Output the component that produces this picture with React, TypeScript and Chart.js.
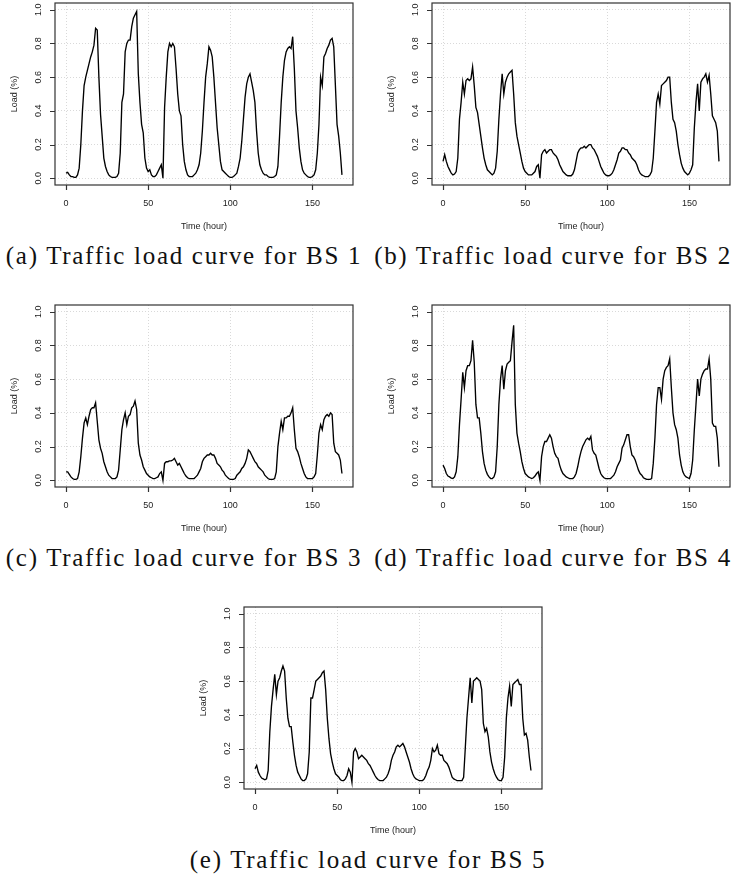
import React, { useEffect, useRef } from "react";
import { Chart, registerables } from "chart.js";

Chart.register(...registerables);

// ---- data (hourly load, hours 0..168) ----
const HOURS: number[] = Array.from({ length: 169 }, (_, i) => i);

const BS1 = [
  0.03, 0.035, 0.02, 0.01, 0.01, 0.005, 0.005, 0.02, 0.06, 0.2,
  0.4, 0.55, 0.6, 0.64, 0.68, 0.72, 0.75, 0.79, 0.89, 0.88,
  0.6, 0.38, 0.25, 0.12, 0.07, 0.04, 0.02, 0.01, 0.005, 0.005,
  0.005, 0.01, 0.03, 0.15, 0.45, 0.5, 0.75, 0.8, 0.82, 0.82,
  0.9, 0.95, 0.97, 0.99, 0.62, 0.45, 0.32, 0.27, 0.12, 0.06,
  0.04, 0.05, 0.02, 0.01, 0.01, 0.02, 0.04, 0.06, 0.08, 0.0,
  0.42, 0.6, 0.75, 0.8, 0.78, 0.8, 0.78, 0.65, 0.5, 0.4,
  0.37, 0.2, 0.1, 0.05, 0.02, 0.01, 0.01, 0.01, 0.02, 0.03,
  0.05, 0.08, 0.15, 0.28, 0.45, 0.6, 0.68, 0.78, 0.76, 0.72,
  0.6, 0.45, 0.3, 0.2, 0.1, 0.05, 0.04, 0.03, 0.02, 0.01,
  0.005, 0.005, 0.01, 0.02, 0.03, 0.07, 0.12, 0.22, 0.35, 0.48,
  0.56, 0.6, 0.62, 0.57, 0.52, 0.45, 0.28, 0.15, 0.08, 0.05,
  0.03, 0.02, 0.02, 0.01, 0.005, 0.005, 0.005, 0.01, 0.02, 0.07,
  0.25, 0.45, 0.6, 0.7, 0.75, 0.77, 0.78, 0.77, 0.84, 0.65,
  0.4, 0.3, 0.18, 0.1, 0.05, 0.03, 0.02, 0.01, 0.005, 0.005,
  0.01, 0.02, 0.05, 0.15, 0.32, 0.6, 0.55, 0.72, 0.74, 0.77,
  0.79, 0.82, 0.83, 0.78, 0.55, 0.32, 0.25, 0.15, 0.02,
];

const BS2 = [
  0.1, 0.14, 0.1, 0.07, 0.05, 0.03, 0.02, 0.025, 0.04, 0.12,
  0.35, 0.45, 0.57, 0.5, 0.58, 0.59, 0.58, 0.59, 0.66, 0.55,
  0.42, 0.39, 0.32, 0.25, 0.18, 0.12, 0.08, 0.05, 0.04, 0.03,
  0.02, 0.03, 0.06, 0.16, 0.35, 0.5, 0.62, 0.5, 0.57, 0.6,
  0.62, 0.63, 0.64, 0.5, 0.33, 0.25, 0.2, 0.15, 0.1, 0.06,
  0.04, 0.03, 0.02, 0.02, 0.02, 0.03, 0.04, 0.07, 0.08, 0.0,
  0.14, 0.16, 0.17, 0.15, 0.16, 0.17, 0.17, 0.15, 0.14, 0.13,
  0.11, 0.08, 0.06, 0.04, 0.03, 0.02, 0.015, 0.015, 0.015, 0.025,
  0.05, 0.1, 0.15, 0.17, 0.18, 0.18, 0.19, 0.18, 0.19, 0.2,
  0.2, 0.18, 0.17, 0.15, 0.13, 0.1, 0.07, 0.05, 0.03, 0.02,
  0.015, 0.015, 0.02, 0.03, 0.05, 0.08, 0.11, 0.15, 0.16, 0.18,
  0.18, 0.17, 0.17, 0.15, 0.14, 0.12, 0.11, 0.1, 0.08, 0.05,
  0.03, 0.02, 0.015, 0.01, 0.01, 0.01, 0.02, 0.04, 0.12, 0.28,
  0.45, 0.5, 0.44, 0.55, 0.56, 0.57, 0.58, 0.6, 0.6, 0.45,
  0.35, 0.33, 0.28, 0.2, 0.14, 0.09, 0.06, 0.04, 0.03, 0.02,
  0.03, 0.05, 0.08, 0.3, 0.45, 0.56, 0.4, 0.57, 0.59, 0.6,
  0.62, 0.57, 0.61, 0.5, 0.37, 0.35, 0.33, 0.28, 0.1,
];

const BS3 = [
  0.05, 0.05, 0.035, 0.02, 0.01, 0.005, 0.005, 0.01, 0.05, 0.14,
  0.25, 0.34, 0.37, 0.33, 0.38, 0.42, 0.43, 0.43, 0.46, 0.35,
  0.24, 0.19, 0.16, 0.11, 0.08, 0.05, 0.03, 0.02, 0.01, 0.01,
  0.01, 0.02, 0.06, 0.18, 0.3, 0.36, 0.4, 0.33, 0.38, 0.39,
  0.43, 0.44, 0.47, 0.42, 0.22, 0.15, 0.12, 0.08, 0.06, 0.04,
  0.03, 0.02, 0.015, 0.01, 0.01, 0.015, 0.02, 0.04, 0.05, 0.0,
  0.1, 0.11, 0.11, 0.115, 0.115, 0.12, 0.13, 0.11, 0.09, 0.1,
  0.08, 0.06, 0.04, 0.025, 0.015, 0.01, 0.01, 0.01, 0.01, 0.02,
  0.03, 0.05, 0.07, 0.11, 0.13, 0.14, 0.15, 0.15, 0.16, 0.15,
  0.15, 0.13, 0.1, 0.09, 0.08, 0.06, 0.05, 0.03, 0.02, 0.01,
  0.005, 0.005, 0.005, 0.01, 0.03, 0.04, 0.05, 0.07, 0.08, 0.1,
  0.13, 0.18, 0.17, 0.15, 0.13, 0.11, 0.1, 0.08, 0.07, 0.06,
  0.05, 0.03, 0.02, 0.01, 0.005, 0.005, 0.005, 0.01, 0.05, 0.2,
  0.28, 0.35, 0.3, 0.37, 0.37, 0.38, 0.38, 0.4, 0.43, 0.3,
  0.19, 0.17, 0.14, 0.1, 0.07, 0.04, 0.02, 0.01, 0.01, 0.01,
  0.01, 0.02, 0.04, 0.15, 0.28, 0.33, 0.3, 0.36, 0.38, 0.39,
  0.38, 0.4, 0.39, 0.22, 0.17, 0.16, 0.15, 0.12, 0.04,
];

const BS4 = [
  0.09, 0.07, 0.04, 0.025, 0.02, 0.012, 0.01, 0.02, 0.05, 0.14,
  0.33, 0.48, 0.64, 0.55, 0.65, 0.68, 0.68, 0.71, 0.83, 0.7,
  0.45, 0.37, 0.37, 0.28, 0.17, 0.1, 0.06, 0.035, 0.02, 0.01,
  0.01, 0.02, 0.05, 0.2, 0.45, 0.6, 0.68, 0.54, 0.65, 0.69,
  0.7, 0.71, 0.82, 0.92, 0.45, 0.28, 0.22, 0.17, 0.11, 0.07,
  0.04, 0.03, 0.02, 0.015, 0.01, 0.015, 0.025, 0.04, 0.05, 0.0,
  0.14, 0.2, 0.23, 0.23, 0.25, 0.27, 0.25, 0.2, 0.16, 0.14,
  0.13, 0.09, 0.06, 0.04, 0.03, 0.02, 0.015, 0.01, 0.01, 0.01,
  0.02, 0.04, 0.08, 0.13, 0.17, 0.2, 0.22, 0.24, 0.25, 0.24,
  0.26, 0.18, 0.16, 0.15, 0.11, 0.07, 0.04, 0.025, 0.015, 0.01,
  0.01, 0.01, 0.01, 0.02, 0.03, 0.05, 0.08, 0.1, 0.12, 0.19,
  0.21, 0.24, 0.27, 0.27, 0.2, 0.15, 0.14, 0.12, 0.09, 0.06,
  0.04, 0.03, 0.015, 0.01, 0.005, 0.005, 0.005, 0.01, 0.1, 0.25,
  0.45, 0.55, 0.55, 0.48, 0.6, 0.65, 0.67, 0.68, 0.72, 0.55,
  0.4, 0.33, 0.3, 0.25, 0.15, 0.09, 0.05, 0.03, 0.02, 0.015,
  0.01, 0.04, 0.12, 0.3, 0.45, 0.6, 0.5, 0.6, 0.63, 0.65,
  0.66, 0.66, 0.72, 0.6, 0.34, 0.32, 0.32, 0.25, 0.08,
];

const BS5 = [
  0.08, 0.1, 0.06, 0.04, 0.025, 0.02, 0.015, 0.02, 0.07, 0.3,
  0.45, 0.55, 0.64, 0.52, 0.6, 0.62, 0.66, 0.69, 0.66, 0.5,
  0.38, 0.33, 0.33, 0.24, 0.16, 0.1, 0.06, 0.04, 0.02, 0.01,
  0.01, 0.02, 0.05, 0.18, 0.5, 0.5, 0.55, 0.6, 0.61, 0.62,
  0.63, 0.65, 0.66, 0.55, 0.38, 0.26, 0.17, 0.12, 0.08, 0.05,
  0.04, 0.03, 0.015, 0.01, 0.01, 0.02, 0.04, 0.08, 0.06, 0.0,
  0.18, 0.2, 0.18, 0.14, 0.15, 0.16, 0.15, 0.14, 0.13, 0.11,
  0.1, 0.08, 0.06, 0.04, 0.025, 0.015, 0.01, 0.01, 0.01, 0.02,
  0.03, 0.05, 0.08, 0.13, 0.16, 0.18, 0.21, 0.22, 0.21, 0.22,
  0.23, 0.21, 0.18, 0.15, 0.12, 0.08, 0.05, 0.03, 0.02, 0.015,
  0.01, 0.01, 0.01, 0.02, 0.04, 0.07, 0.09, 0.13, 0.2, 0.18,
  0.19, 0.22, 0.17, 0.16, 0.16, 0.13, 0.12, 0.11, 0.09, 0.06,
  0.03, 0.02, 0.015, 0.01, 0.01, 0.01, 0.01, 0.03, 0.2, 0.38,
  0.5, 0.62, 0.47, 0.6, 0.61, 0.62, 0.61, 0.6, 0.55, 0.35,
  0.3, 0.32, 0.27, 0.18, 0.12, 0.08, 0.05, 0.03, 0.015, 0.01,
  0.01, 0.03, 0.15, 0.38, 0.5, 0.57, 0.45, 0.58, 0.59, 0.6,
  0.61, 0.58, 0.58, 0.38, 0.28, 0.29, 0.25, 0.15, 0.07,
];

const X_TICKS = [0, 50, 100, 150];
const X_LABELS = ["0", "50", "100", "150"];
const Y_TICKS = [0, 0.2, 0.4, 0.6, 0.8, 1.0];
const Y_LABELS = ["0.0", "0.2", "0.4", "0.6", "0.8", "1.0"];
const X_TITLE = "Time (hour)";
const Y_TITLE = "Load (%)";
const CAPTIONS = [
  "(a) Traffic load curve for BS 1",
  "(b) Traffic load curve for BS 2",
  "(c) Traffic load curve for BS 3",
  "(d) Traffic load curve for BS 4",
  "(e) Traffic load curve for BS 5",
];

// ---- layout ----
const BOX_W = 298;
const BOX_H = 182;
const PAD_L = 56;
const PAD_T = 4;
const PAD_R = 4;
const PAD_B = 50;

const PANELS = [
  { series: BS1, caption: CAPTIONS[0], left: 55, top: 3, capX: 184 },
  { series: BS2, caption: CAPTIONS[1], left: 432, top: 3, capX: 553 },
  { series: BS3, caption: CAPTIONS[2], left: 55, top: 305, capX: 184 },
  { series: BS4, caption: CAPTIONS[3], left: 432, top: 305, capX: 553 },
  { series: BS5, caption: CAPTIONS[4], left: 244, top: 607, capX: 368 },
];

const rFramePlugin = {
  id: "rFrame",
  afterDraw(chart: any) {
    const { ctx, chartArea: a, scales } = chart;
    const xs = scales.x;
    const ys = scales.y;
    ctx.save();
    ctx.strokeStyle = "#333";
    ctx.lineWidth = 1.2;
    ctx.strokeRect(a.left, a.top, a.right - a.left, a.bottom - a.top);
    ctx.beginPath();
    X_TICKS.forEach((v) => {
      const px = Math.round(xs.getPixelForValue(v)) + 0.5;
      ctx.moveTo(px, a.bottom);
      ctx.lineTo(px, a.bottom + 5);
    });
    Y_TICKS.forEach((v) => {
      const py = Math.round(ys.getPixelForValue(v)) + 0.5;
      ctx.moveTo(a.left, py);
      ctx.lineTo(a.left - 5, py);
    });
    ctx.stroke();

    ctx.fillStyle = "#222";
    ctx.font = '9px "Liberation Sans", Arial, sans-serif';
    ctx.textAlign = "center";
    ctx.textBaseline = "middle";
    X_TICKS.forEach((v, i) => {
      ctx.fillText(X_LABELS[i], xs.getPixelForValue(v), a.bottom + 19);
    });
    ctx.fillText(X_TITLE, (a.left + a.right) / 2, a.bottom + 41.5);
    Y_TICKS.forEach((v, i) => {
      ctx.save();
      ctx.translate(a.left - 16, ys.getPixelForValue(v));
      ctx.rotate(-Math.PI / 2);
      ctx.fillText(Y_LABELS[i], 0, 0);
      ctx.restore();
    });
    ctx.save();
    ctx.translate(a.left - 40, (a.top + a.bottom) / 2);
    ctx.rotate(-Math.PI / 2);
    ctx.fillText(Y_TITLE, 0, 0);
    ctx.restore();
    ctx.restore();
  },
};

function Panel({ series }: { series: number[] }) {
  const ref = useRef<HTMLCanvasElement | null>(null);
  useEffect(() => {
    if (!ref.current) return;
    const gridOpts = { color: "#d9d9d9", lineWidth: 1, drawTicks: false };
    const chart = new Chart(ref.current, {
      type: "line",
      data: {
        datasets: [
          {
            data: series.map((v, i) => ({ x: HOURS[i], y: v })),
            borderColor: "#000",
            borderWidth: 1.35,
            pointRadius: 0,
            tension: 0,
            fill: false,
          },
        ],
      },
      options: {
        animation: false,
        responsive: false,
        events: [],
        layout: { padding: { left: 0, top: PAD_T, right: PAD_R, bottom: 0 } },
        plugins: { legend: { display: false }, tooltip: { enabled: false }, title: { display: false } },
        scales: {
          x: {
            type: "linear",
            min: -6.72,
            max: 174.72,
            afterBuildTicks: (s: any) => {
              s.ticks = X_TICKS.map((v) => ({ value: v }));
            },
            afterFit: (s: any) => {
              s.height = PAD_B;
            },
            ticks: { display: false },
            grid: gridOpts,
            border: { display: false, dash: [1, 2] },
          },
          y: {
            type: "linear",
            min: -0.04,
            max: 1.04,
            afterBuildTicks: (s: any) => {
              s.ticks = Y_TICKS.map((v) => ({ value: v }));
            },
            afterFit: (s: any) => {
              s.width = PAD_L;
            },
            ticks: { display: false },
            grid: gridOpts,
            border: { display: false, dash: [1, 2] },
          },
        },
      } as any,
      plugins: [rFramePlugin],
    });
    return () => chart.destroy();
  }, [series]);
  return (
    <canvas
      ref={ref}
      width={PAD_L + BOX_W + PAD_R}
      height={PAD_T + BOX_H + PAD_B}
      style={{ display: "block", width: PAD_L + BOX_W + PAD_R, height: PAD_T + BOX_H + PAD_B }}
    />
  );
}

export default function App() {
  return (
    <div style={{ position: "absolute", left: 0, top: 0, width: 736, height: 880, background: "#fff", overflow: "hidden" }}>
      {PANELS.map((p, i) => (
        <React.Fragment key={i}>
          <div style={{ position: "absolute", left: p.left - PAD_L, top: p.top - PAD_T }}>
            <Panel series={p.series} />
          </div>
          <div
            style={{
              position: "absolute",
              left: p.capX - 200,
              width: 400,
              top: p.top + BOX_H + 79 - 21,
              textAlign: "center",
              fontFamily: '"Liberation Serif", "Times New Roman", serif',
              fontSize: 25,
              lineHeight: "25px",
              letterSpacing: "1.7px",
              color: "#111",
              whiteSpace: "nowrap",
            }}
          >
            {p.caption}
          </div>
        </React.Fragment>
      ))}
    </div>
  );
}
